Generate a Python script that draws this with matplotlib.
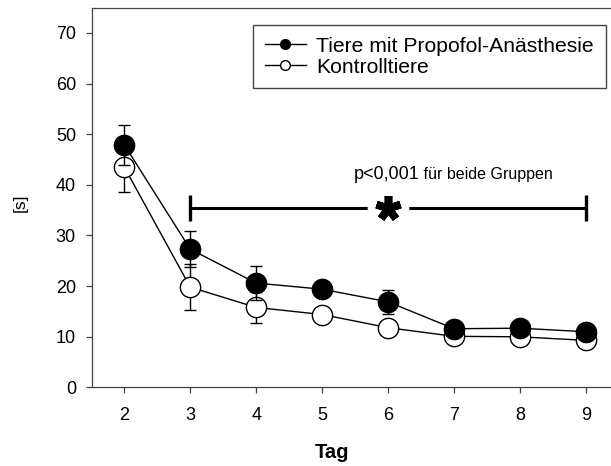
import matplotlib
matplotlib.use("Agg")
import matplotlib.pyplot as plt
from matplotlib.lines import Line2D

plt.rcParams['font.family'] = ['Liberation Sans', 'DejaVu Sans']

days = [2, 3, 4, 5, 6, 7, 8, 9]
propofol_mean = [47.9, 27.3, 20.6, 19.4, 16.9, 11.6, 11.7, 11.0]
propofol_sd = [3.9, 3.5, 3.4, 1.3, 2.4, 1.0, 1.0, 0.8]
control_mean = [43.5, 19.8, 15.8, 14.4, 11.8, 10.1, 10.0, 9.3]
control_sd = [5.0, 4.5, 3.0, 1.2, 1.2, 0.8, 0.8, 0.8]

label_propofol = "Tiere mit Propofol-Anästhesie"
label_control = "Kontrolltiere"

bracket_start, bracket_end, bracket_y, bracket_cap = 3, 9, 35.4, 2.6
star_x = 6
p_text_main = "p<0,001"
p_text_rest = " für beide Gruppen"
p_text_x, p_text_y = 6.47, 41.1

fig = plt.figure(figsize=(6.11, 4.66), dpi=100)
ax = fig.add_axes([0.150, 0.1685, 0.850, 0.8143])

spine_color = '#444444'
# control (open) first
ax.errorbar(days, control_mean, yerr=control_sd, color='black', lw=1.0,
            elinewidth=1.0, capsize=4.3, capthick=1.0, marker='o', ms=14.6,
            mfc='white', mec='black', mew=1.0, zorder=2)
ax.errorbar(days, propofol_mean, yerr=propofol_sd, color='black', lw=1.0,
            elinewidth=1.0, capsize=4.3, capthick=1.0, marker='o', ms=14.6,
            mfc='black', mec='black', mew=1.0, zorder=3)

# significance bracket
ax.plot([bracket_start, bracket_end], [bracket_y, bracket_y], color='black', lw=2.2,
        solid_capstyle='butt', zorder=4)
for bx in (bracket_start, bracket_end):
    ax.plot([bx, bx], [bracket_y - bracket_cap, bracket_y + bracket_cap],
            color='black', lw=2.4, solid_capstyle='butt', zorder=4)
ax.plot([star_x], [bracket_y], marker='o', ms=30, mfc='white', mec='none', zorder=5)
ax.plot([star_x], [bracket_y], marker=(5, 2, 0), ms=18, mew=5.5, color='black', zorder=6)
ax.text(p_text_x, p_text_y, p_text_main, ha='right', va='baseline', fontsize=13)
ax.text(p_text_x, p_text_y, p_text_rest, ha='left', va='baseline', fontsize=11.5)

ax.set_xlim(1.505, 9.38)
ax.set_ylim(0, 74.9)
ax.set_xticks(days)
ax.set_yticks([0, 10, 20, 30, 40, 50, 60, 70])
ax.tick_params(axis='both', direction='out', length=4.3, width=0.9, color=spine_color,
               labelsize=13)
ax.tick_params(axis='y', pad=7)
ax.tick_params(axis='x', pad=10)
for s in ['left', 'bottom', 'top']:
    ax.spines[s].set_color(spine_color)
    ax.spines[s].set_linewidth(0.9)
ax.spines['right'].set_visible(False)

ax.set_xlabel("Tag", fontsize=14.5, fontweight='bold', va='center')
ax.xaxis.set_label_coords(0.463, -0.1726)
ax.set_ylabel("[s]", fontsize=12.5, va='center')
ax.yaxis.set_label_coords(-0.138, 0.486)

handles = [
    Line2D([], [], color='black', lw=1.0, marker='o', ms=7, mfc='black', mec='black'),
    Line2D([], [], color='black', lw=1.0, marker='o', ms=7, mfc='white', mec='black'),
]
leg = ax.legend(handles, [label_propofol, label_control], loc='upper left',
                bbox_to_anchor=(0.3106, 0.955), fontsize=15.2, frameon=True,
                fancybox=False, edgecolor='#444444', framealpha=1,
                handlelength=1.95, handletextpad=0.5, labelspacing=0.1,
                borderpad=0.55, borderaxespad=0)
leg.get_frame().set_linewidth(1.0)

fig.savefig("out.png", dpi=100)
